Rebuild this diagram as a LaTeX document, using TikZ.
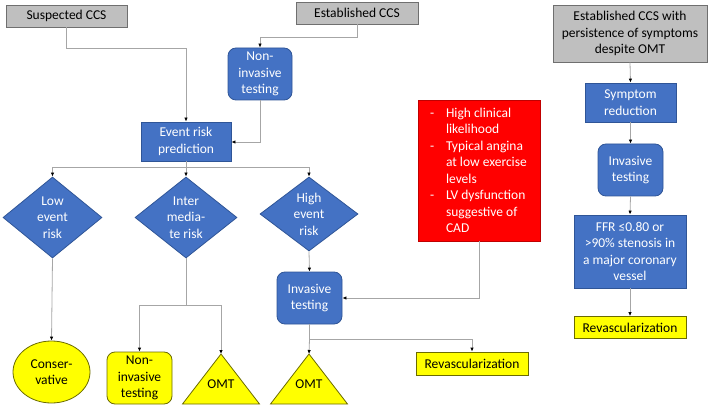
\documentclass[tikz,border=0pt]{standalone}
\usepackage{fontspec}
\setmainfont{Carlito}
\usetikzlibrary{shapes.geometric,arrows.meta}
\definecolor{bfill}{HTML}{4472C4}
\definecolor{bdraw}{HTML}{2F5597}
\definecolor{gfill}{HTML}{BFBFBF}
\definecolor{gdraw}{HTML}{6F6F6F}
\definecolor{yfill}{HTML}{FFFF00}
\definecolor{ydraw}{HTML}{6B6B00}
\definecolor{rfill}{HTML}{FF0000}
\definecolor{rdraw}{HTML}{C00000}
\definecolor{lgrey}{HTML}{A6A6A6}
\begin{document}
\begin{tikzpicture}[x=1pt,y=-1pt,
  every node/.style={font=\fontsize{13.5}{16.5}\selectfont, inner sep=0pt, align=center},
  greybox/.style={draw=gdraw, fill=gfill, line width=0.8pt, rectangle},
  bluebox/.style={draw=bdraw, fill=bfill, line width=0.8pt, rectangle, text=white},
  bluerbox/.style={bluebox, rounded corners=8pt},
  bluedia/.style={draw=bdraw, fill=bfill, line width=0.8pt, diamond},
  yellowbox/.style={draw=ydraw, fill=yfill, line width=0.8pt, rectangle},
  yellowrbox/.style={yellowbox, rounded corners=8pt},
  redbox/.style={draw=rdraw, fill=rfill, line width=0.8pt, rectangle, text=white},
  conn/.style={draw=lgrey, line width=0.8pt, -{Latex[length=4pt,width=3.5pt,black]}},
  plain/.style={draw=lgrey, line width=0.8pt}
]
\useasboundingbox (0,0) rectangle (709,406);

% top row
\node[greybox, minimum width=121pt, minimum height=22pt] (susp) at (66.5,16) {Suspected CCS};
\node[greybox, minimum width=122pt, minimum height=22pt] (estab) at (357,13) {Established CCS};
\node[bluerbox, minimum width=64pt, minimum height=52pt] (nit) at (260,74) {Non-\\invasive\\testing};
\node[bluebox, minimum width=90pt, minimum height=39pt] (erp) at (186,141.5) {Event risk\\prediction};

% diamonds
\node[bluedia, minimum width=99pt, minimum height=81pt] (low) at (52.5,217.5) {};
\node[text=white] (lowt) at (low.center) {Low\\event\\risk};
\node[bluedia, minimum width=102pt, minimum height=81pt] (mid) at (186,217.5) {};
\node[text=white] (midt) at (mid.center) {Inter\\media-\\te risk};
\node[bluedia, minimum width=98pt, minimum height=74pt] (high) at (309,214) {};
\node[text=white] (hight) at (high.center) {High\\event\\risk};

% invasive testing (left)
\node[bluerbox, minimum width=65pt, minimum height=52pt] (inv) at (309.5,298) {Invasive\\testing};

% bottom outcomes
\node[draw=ydraw, fill=yfill, line width=0.8pt, ellipse, minimum width=77pt, minimum height=62pt] (cons) at (51.5,372) {Conser-\\vative};
\node[yellowrbox, minimum width=65pt, minimum height=52pt] (nit2) at (139.5,378) {Non-\\invasive\\testing};
\coordinate (omta) at (221,354);
\draw[draw=ydraw, fill=yfill, line width=0.8pt] (omta) -- (259.5,404) -- (182.5,404) -- cycle;
\node (omtat) at (221,384) {OMT};
\coordinate (omtb) at (309,354);
\draw[draw=ydraw, fill=yfill, line width=0.8pt] (omtb) -- (347.5,404) -- (270.5,404) -- cycle;
\node (omtbt) at (309,384) {OMT};
\node[yellowbox, minimum width=112pt, minimum height=23pt] (rev1) at (472,363.5) {Revascularization};

% red box
\node[redbox, minimum width=122pt, minimum height=141pt] (red) at (479,170.5)
 {\begin{minipage}{98pt}\raggedright
 \makebox[16pt][l]{-}High clinical\\
 \hspace*{16pt}likelihood\\
 \makebox[16pt][l]{-}Typical angina\\
 \hspace*{16pt}at low exercise\\
 \hspace*{16pt}levels\\
 \makebox[16pt][l]{-}LV dysfunction\\
 \hspace*{16pt}suggestive of\\
 \hspace*{16pt}CAD
 \end{minipage}};

% right column
\node[greybox, minimum width=154pt, minimum height=57pt] (pers) at (630,33.5) {Established CCS with\\persistence of symptoms\\despite OMT};
\node[bluebox, minimum width=91pt, minimum height=39pt] (symp) at (630.5,102.5) {Symptom\\reduction};
\node[bluerbox, minimum width=65pt, minimum height=52pt] (inv2) at (630.5,170) {Invasive\\testing};
\node[bluebox, minimum width=112pt, minimum height=73pt] (ffr) at (630,251.5) {FFR ≤0.80 or\\>90\% stenosis in\\a major coronary\\vessel};
\node[yellowbox, minimum width=112pt, minimum height=22pt] (rev2) at (630,327.5) {Revascularization};

% connectors
\draw[conn] (susp.south) -- ++(0,21) -| (erp.north);
\draw[conn] (estab.south) -- ++(0,13) -| (nit.north);
\draw[conn] (nit.south) |- (erp.east |- 0,142);
\coordinate (split1) at (186,167);
\draw[plain] (erp.south) -- (split1);
\draw[conn] (split1) -| (low.north);
\draw[conn] (split1) -- (mid.north);
\draw[conn] (split1) -| (high.north);
\draw[conn] (low.south) -- (cons.north);
\coordinate (split2) at (186,305);
\draw[plain] (mid.south) -- (split2);
\draw[conn] (split2) -| (nit2.north);
\draw[conn] (split2) -| (omta);
\draw[conn] (high.south) -- (inv.north);
\draw[conn] (red.south) |- (inv.east);
\coordinate (split3) at (309.5,339);
\draw[plain] (inv.south) -- (split3);
\draw[conn] (split3) -- (omtb);
\draw[conn] (split3) -| (rev1.north);
\draw[conn] (pers.south) -- (symp.north);
\draw[conn] (symp.south) -- (inv2.north);
\draw[conn] (inv2.south) -- (ffr.north);
\draw[conn] (ffr.south) -- (rev2.north);
\end{tikzpicture}
\end{document}
